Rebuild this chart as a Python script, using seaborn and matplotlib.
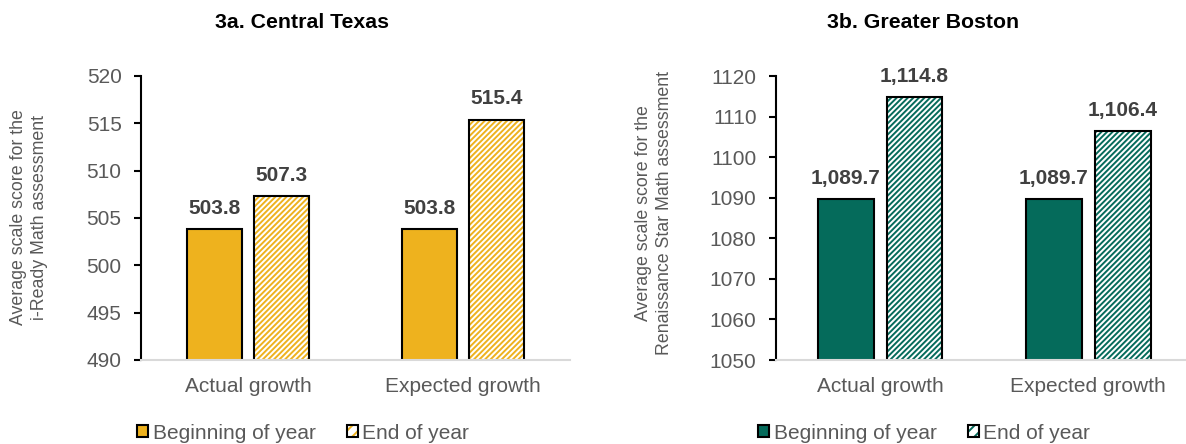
import numpy as np
import pandas as pd
import seaborn as sns
import matplotlib.pyplot as plt
from matplotlib.patches import Patch, Rectangle
from matplotlib.ticker import FixedLocator

# ---- data -------------------------------------------------------------
categories = ["Actual growth", "Expected growth"]
periods = ["Beginning of year", "End of year"]

texas_boy = [503.8, 503.8]
texas_eoy = [507.3, 515.4]
texas_ticks = [490, 495, 500, 505, 510, 515, 520]

boston_boy = [1089.7, 1089.7]
boston_eoy = [1114.8, 1106.4]
boston_ticks = [1050, 1060, 1070, 1080, 1090, 1100, 1110, 1120]

panel_titles = ["3a. Central Texas", "3b. Greater Boston"]
ylabels = ["Average scale score for the\ni-Ready Math assessment",
           "Average scale score for the\nRenaissance Star Math assessment"]

GOLD = "#EEB21E"
GREEN = "#056B5B"
GREY_TXT = "#595959"
LABEL_TXT = "#404040"
HATCH = "//////"

sns.set_theme(style="white")
plt.rcParams["font.family"] = ["Liberation Sans", "DejaVu Sans"]
plt.rcParams["hatch.linewidth"] = 1.4

W, H = 1186, 444
fig = plt.figure(figsize=(W / 100, H / 100), dpi=100)


def frame(boy, eoy):
    return pd.DataFrame({
        "growth": categories * 2,
        "period": [periods[0]] * 2 + [periods[1]] * 2,
        "score": list(boy) + list(eoy),
    })


def panel(rect, boy, eoy, ticks, color, fmt, xmax, width, gap):
    ax = fig.add_axes(rect)
    df = frame(boy, eoy)
    sns.barplot(data=df, x="growth", y="score", hue="period",
                hue_order=periods, order=categories,
                palette=[color, color], saturation=1,
                width=width, gap=gap, edgecolor="black", linewidth=1.5,
                legend=False, ax=ax)

    # end-of-year bars: white fill with coloured diagonal stripes, black outline
    for bar in ax.containers[1]:
        bar.set_facecolor("white")
        bar.set_edgecolor(color)
        bar.set_hatch(HATCH)
        bar.set_linewidth(0)
        ax.add_patch(Rectangle(bar.get_xy(), bar.get_width(), bar.get_height(),
                               fill=False, edgecolor="black", linewidth=1.5,
                               zorder=bar.get_zorder() + 0.1))

    for cont in ax.containers:
        ax.bar_label(cont, fmt=fmt, padding=8, fontsize=15,
                     fontweight="bold", color=LABEL_TXT)

    ax.set_ylim(ticks[0], ticks[-1])
    ax.yaxis.set_major_locator(FixedLocator(ticks))
    ax.set_xlim(-0.5, xmax)
    ax.set_xlabel("")
    ax.set_ylabel("")

    for s in ["top", "right"]:
        ax.spines[s].set_visible(False)
    ax.spines["left"].set_color("black")
    ax.spines["left"].set_linewidth(1.5)
    ax.spines["bottom"].set_color("#D9D9D9")
    ax.spines["bottom"].set_linewidth(1.5)

    ax.tick_params(axis="y", left=True, length=5, width=1.5, color="black",
                   pad=9, labelsize=15, labelcolor=GREY_TXT)
    ax.tick_params(axis="x", bottom=False, length=0, pad=12,
                   labelsize=15, labelcolor=GREY_TXT)
    return ax


ax1 = panel([141 / W, 84 / H, 429 / W, 284 / H], texas_boy, texas_eoy,
            texas_ticks, GOLD, "{:,.1f}", 1.5, 0.628, 0.185)
ax2 = panel([776 / W, 84 / H, 410 / W, 284 / H], boston_boy, boston_eoy,
            boston_ticks, GREEN, "{:,.1f}", 1.47, 0.663, 0.19)

# titles
fig.text(302 / W, 1 - 22 / H, panel_titles[0], ha="center", va="center",
         fontsize=15.3, fontweight="bold", color="black")
fig.text(923 / W, 1 - 22 / H, panel_titles[1], ha="center", va="center",
         fontsize=15.3, fontweight="bold", color="black")

# y-axis titles
fig.text(29 / W, 1 - 217 / H, ylabels[0], rotation=90, ha="center", va="center",
         multialignment="center", fontsize=12.8, color=GREY_TXT, linespacing=1.3)
fig.text(654 / W, 1 - 213 / H, ylabels[1], rotation=90, ha="center", va="center",
         multialignment="center", fontsize=12.8, color=GREY_TXT, linespacing=1.3)


def legend_handles(color):
    solid = Patch(facecolor=color, edgecolor="black", linewidth=1.5)
    stripes = Patch(facecolor="white", edgecolor=color, hatch="///", linewidth=0)
    outline = Patch(facecolor="none", edgecolor="black", linewidth=1.5)
    return [solid, (stripes, outline)]


for color, x0 in [(GOLD, 137), (GREEN, 758)]:
    fig.legend(legend_handles(color), periods, loc="center left",
               bbox_to_anchor=(x0 / W, 1 - 433 / H), ncol=2, frameon=False,
               fontsize=15, labelcolor=GREY_TXT, handlelength=0.55,
               handleheight=0.55, handletextpad=0.2, columnspacing=1.5,
               borderpad=0, borderaxespad=0)

fig.savefig("out.png", dpi=100)
